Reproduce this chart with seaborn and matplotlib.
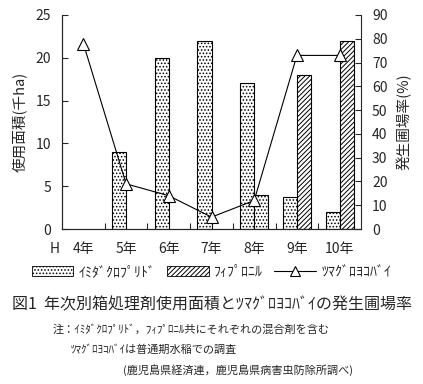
import numpy as np
import pandas as pd
import matplotlib
matplotlib.use('Agg')
import matplotlib.pyplot as plt
import seaborn as sns
from matplotlib.patches import Patch
from matplotlib.lines import Line2D

# data
years = ['4年', '5年', '6年', '7年', '8年', '9年', '10年']
imida = [np.nan, 9.0, 20.0, 22.0, 17.0, 3.7, 2.0]      # 千ha
fipro = [np.nan, np.nan, np.nan, np.nan, 4.0, 18.0, 22.0]  # 千ha
rate = [78, 19, 14, 5, 12, 73, 73]                       # %

name_imida = 'ｲﾐﾀﾞｸﾛﾌﾟﾘﾄﾞ'
name_fipro = 'ﾌｨﾌﾟﾛﾆﾙ'
name_rate = 'ﾂﾏｸﾞﾛﾖｺﾊﾞｲ'

sns.set_style('ticks')
plt.rcParams['font.family'] = ['Noto Sans CJK JP', 'DejaVu Sans']
plt.rcParams['hatch.linewidth'] = 0.7

df = pd.DataFrame({'year': years * 2,
                   'area': imida + fipro,
                   'agent': [name_imida] * len(years) + [name_fipro] * len(years)})

fig = plt.figure(figsize=(4.23, 3.84), dpi=100)
ax = fig.add_axes([0.1466, 0.4036, 0.7068, 0.5574])

sns.barplot(data=df, x='year', y='area', hue='agent', hue_order=[name_imida, name_fipro],
            order=years, palette=['white', 'white'], width=0.66, gap=0,
            edgecolor='black', linewidth=0.8, ax=ax, legend=False)

hatches = {name_imida: '.....', name_fipro: '///////'}
n = len(years)
for i, bar in enumerate(ax.patches[:2 * n]):
    bar.set_hatch(hatches[name_imida] if i < n else hatches[name_fipro])
    bar.set_edgecolor('black')

ax.set_xlim(-0.5, n - 0.5)
ax.set_ylim(0, 25)
ax.set_yticks(range(0, 26, 5))
ax.set_xlabel('')
ax.set_ylabel('使用面積(千ha)', fontsize=10.5, labelpad=6)
ax.set_xticks(range(n))
ax.set_xticklabels(years)
ax.set_xticks(np.arange(0.5, n - 0.5, 1), minor=True)
ax.tick_params(axis='x', which='major', length=0, pad=9, labelsize=10)
ax.tick_params(axis='x', which='minor', direction='in', length=4, width=0.8)
ax.tick_params(axis='y', direction='in', length=4, width=0.8, labelsize=10, pad=8)
ax.text(-0.025, -0.095, 'H', transform=ax.transAxes, ha='center', va='center', fontsize=10)

ax2 = ax.twinx()
sns.lineplot(x=years, y=rate, ax=ax2, color='black', linewidth=0.8, marker='^',
             markersize=9, markerfacecolor='white', markeredgecolor='black',
             markeredgewidth=0.8, sort=False)
ax2.set_ylim(0, 90)
ax2.set_yticks(range(0, 91, 10))
ax2.set_ylabel('発生圃場率(%)', fontsize=10.5, labelpad=6)
ax2.tick_params(axis='y', direction='in', length=4, width=0.8, labelsize=10, pad=8)

for a in (ax, ax2):
    a.spines['top'].set_visible(False)
    for s in ('left', 'right', 'bottom'):
        a.spines[s].set_linewidth(0.8)
ax.spines['right'].set_visible(False)

handles = [Patch(facecolor='white', edgecolor='black', hatch='.....', linewidth=0.6),
           Patch(facecolor='white', edgecolor='black', hatch='///////', linewidth=0.6),
           Line2D([], [], color='black', linewidth=0.8, marker='^', markersize=7,
                  markerfacecolor='white', markeredgecolor='black', markeredgewidth=0.8)]
fig.legend(handles, [name_imida, name_fipro, name_rate], loc='center',
           bbox_to_anchor=(0.5, 0.292), ncol=3, frameon=False, fontsize=10,
           handlelength=3.0, handleheight=0.7, handletextpad=0.4, columnspacing=0.8)

fig.text(0.5, 0.206, '図1  年次別箱処理剤使用面積と' + name_rate + 'の発生圃場率',
         ha='center', va='center', fontsize=11.5)
fig.text(0.125, 0.141, '注：' + name_imida + '，' + name_fipro + '共にそれぞれの混合剤を含む',
         ha='left', va='center', fontsize=8)
fig.text(0.168, 0.089, name_rate + 'は普通期水稲での調査',
         ha='left', va='center', fontsize=8)
fig.text(0.29, 0.036, '(鹿児島県経済連，鹿児島県病害虫防除所調べ)',
         ha='left', va='center', fontsize=8)

fig.savefig('out.png', dpi=100)
